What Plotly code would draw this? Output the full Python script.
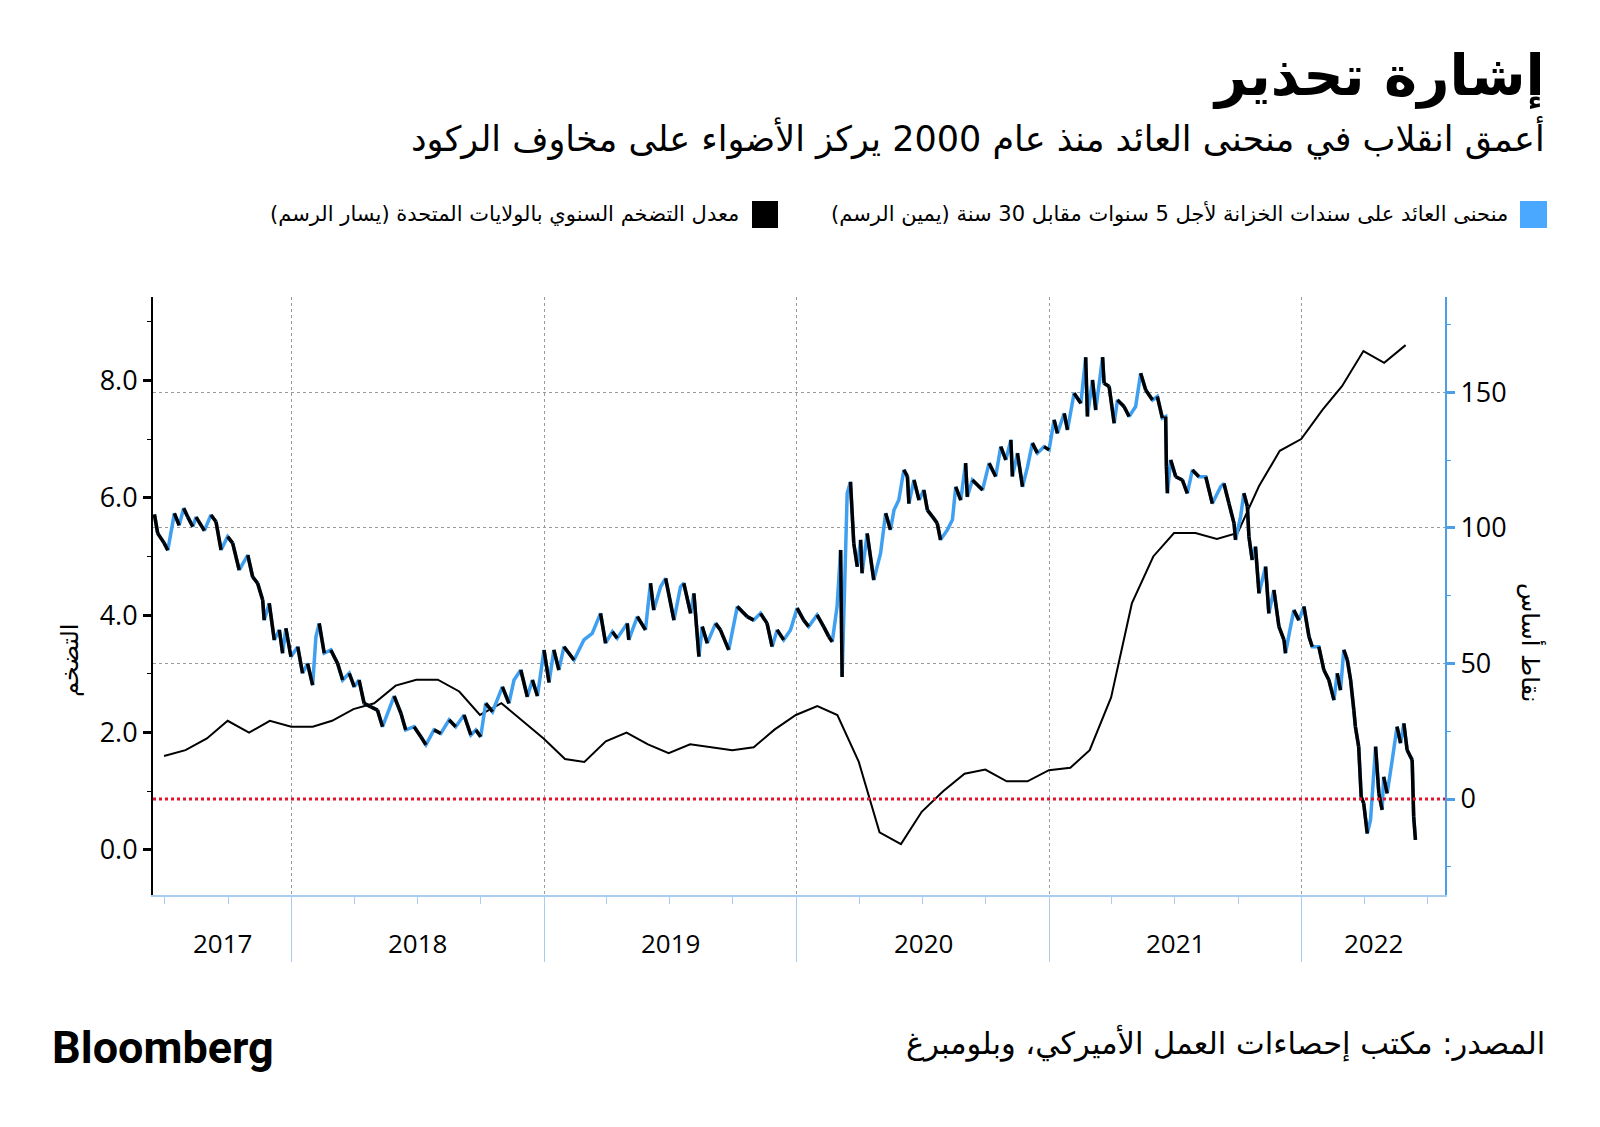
import plotly.graph_objects as go
import pandas as pd
from datetime import datetime

# ---------------- text ----------------
title_text = "إشارة تحذير"
subtitle_text = "أعمق انقلاب في منحنى العائد منذ عام 2000 يركز الأضواء على مخاوف الركود"
legend_spread = "منحنى العائد على سندات الخزانة لأجل 5 سنوات مقابل 30 سنة (يمين الرسم)"
legend_cpi = "معدل التضخم السنوي بالولايات المتحدة (يسار الرسم)"
left_title = "التضخم"
right_title = "نقاط أساس"
source_text = "المصدر: مكتب إحصاءات العمل الأميركي، وبلومبرغ"
brand_text = "Bloomberg"

# ---------------- data ----------------
# US CPI YoY (%), monthly, first month 2017-06
cpi_first_month = "2017-06"
cpi_values = [1.6, 1.7, 1.9, 2.2, 2.0, 2.2, 2.1,
              2.1, 2.2, 2.4, 2.5, 2.8, 2.9, 2.9, 2.7, 2.3, 2.5, 2.2, 1.9,
              1.55, 1.5, 1.85, 2.0, 1.8, 1.65, 1.8, 1.75, 1.7, 1.75, 2.05, 2.3,
              2.45, 2.3, 1.5, 0.3, 0.1, 0.65, 1.0, 1.3, 1.37, 1.17, 1.17, 1.36,
              1.4, 1.7, 2.6, 4.2, 5.0, 5.4, 5.4, 5.3, 5.4, 6.2, 6.8, 7.0,
              7.5, 7.9, 8.5, 8.3, 8.6]

# 5s30s Treasury curve (bp); time in decimal years
spread_t = [2017.455, 2017.468, 2017.493, 2017.508, 2017.534, 2017.553, 2017.571, 2017.587, 2017.607, 2017.620,
            2017.653, 2017.679, 2017.699, 2017.719, 2017.745, 2017.765, 2017.791, 2017.825, 2017.844, 2017.864,
            2017.884, 2017.890, 2017.910, 2017.930, 2017.950, 2017.963, 2017.976, 2017.996,
            2018.023, 2018.042, 2018.062, 2018.082, 2018.095, 2018.108, 2018.128, 2018.154, 2018.181, 2018.201,
            2018.227, 2018.247, 2018.266, 2018.286, 2018.313, 2018.339, 2018.359, 2018.385, 2018.405, 2018.432,
            2018.451, 2018.484, 2018.511, 2018.531, 2018.563, 2018.590, 2018.623, 2018.649, 2018.682, 2018.709,
            2018.729, 2018.748, 2018.768, 2018.795, 2018.834, 2018.860, 2018.880, 2018.907, 2018.933, 2018.953,
            2018.973, 2018.999,
            2019.019, 2019.038, 2019.058, 2019.078, 2019.118, 2019.157, 2019.190, 2019.223, 2019.243, 2019.270,
            2019.289, 2019.329, 2019.335, 2019.369, 2019.401, 2019.421, 2019.434, 2019.461, 2019.481, 2019.514,
            2019.540, 2019.553, 2019.580, 2019.593, 2019.613, 2019.626, 2019.646, 2019.679, 2019.698, 2019.731,
            2019.765, 2019.804, 2019.830, 2019.857, 2019.883, 2019.903, 2019.923, 2019.949, 2019.976,
            2020.002, 2020.028, 2020.048, 2020.081, 2020.107, 2020.127, 2020.141, 2020.160, 2020.174, 2020.180,
            2020.193, 2020.200, 2020.213, 2020.226, 2020.240, 2020.253, 2020.259, 2020.279, 2020.305, 2020.332,
            2020.352, 2020.371, 2020.385, 2020.404, 2020.424, 2020.438, 2020.444, 2020.464, 2020.484, 2020.503,
            2020.517, 2020.537, 2020.556, 2020.569, 2020.596, 2020.616, 2020.629, 2020.649, 2020.668, 2020.675,
            2020.695, 2020.735, 2020.761, 2020.787, 2020.807, 2020.827, 2020.847, 2020.853, 2020.873, 2020.893,
            2020.913, 2020.932, 2020.952, 2020.978, 2020.998,
            2021.018, 2021.031, 2021.058, 2021.071, 2021.097, 2021.124, 2021.143, 2021.150, 2021.170, 2021.183,
            2021.210, 2021.216, 2021.236, 2021.256, 2021.269, 2021.295, 2021.315, 2021.341, 2021.361, 2021.381,
            2021.408, 2021.427, 2021.447, 2021.460, 2021.463, 2021.467, 2021.480, 2021.500, 2021.526, 2021.546,
            2021.566, 2021.592, 2021.619, 2021.645, 2021.678, 2021.691, 2021.711, 2021.731, 2021.737, 2021.757,
            2021.770, 2021.784, 2021.790, 2021.803, 2021.816, 2021.830, 2021.856, 2021.869, 2021.889, 2021.909,
            2021.929, 2021.935, 2021.955, 2021.968, 2021.988,
            2022.008, 2022.028, 2022.041, 2022.067, 2022.087, 2022.107, 2022.127, 2022.140, 2022.153, 2022.166,
            2022.180, 2022.193, 2022.206, 2022.212, 2022.225, 2022.235, 2022.245, 2022.259, 2022.272, 2022.285,
            2022.292, 2022.305, 2022.318, 2022.324, 2022.338, 2022.358, 2022.377, 2022.391, 2022.404, 2022.417,
            2022.437, 2022.443, 2022.450]
spread_bp = [105, 98, 94.5, 91.8, 105.4, 101, 107.3, 104, 100.5, 104,
             99, 104.8, 102.3, 91.9, 96.8, 94.4, 84.5, 90, 82, 79.6,
             73.4, 66, 72.2, 58.7, 62.4, 53.8, 63, 52.5,
             56.2, 46.4, 50, 42, 59.9, 64.8, 53.8, 55, 50, 43.9,
             46.4, 41.4, 43.9, 35.3, 34, 32.8, 26.7, 32.8, 38, 31.6,
             25.5, 26.7, 23, 20, 25.5, 24.2, 29.2, 26.7, 31, 23.6,
             25.5, 23, 35.3, 32.2, 41.4, 35.3, 43.9, 47.6, 37.7, 43.9,
             38, 55,
             43, 55, 47.6, 56.2, 51.3, 58.7, 61.1, 68.5, 57.5, 61.7,
             59.3, 64.8, 58.7, 67.3, 62.4, 79.6, 69.7, 78.3, 81.4, 66,
             78.3, 79.6, 68.5, 75.9, 52.5, 63.6, 57.5, 64.8, 62.4, 55,
             71, 67.3, 66, 68.5, 64.8, 56.2, 62.4, 58.7, 62.4,
             70.4, 66, 63.6, 67.9, 63.6, 59.9, 58, 71, 91.9, 45,
             83.4, 112.8, 117, 94.4, 85.7, 95.6, 83.3, 98, 80.8, 90.7,
             105.4, 99.3, 106.6, 110.3, 121.4, 119, 109, 117.7, 110.3, 114,
             106.6, 104.2, 101.7, 95.6, 99.3, 103, 115.2, 110.3, 123.9, 111.5,
             117.7, 114, 123.9, 119, 130, 125.1, 132.5, 119, 127.6, 115.2,
             122.6, 131.3, 127.6, 130, 128.8,
             139.9, 134.9, 142.3, 136.2, 149.7, 146, 163, 141.1, 154.6, 143.5,
             163, 153.4, 152.2, 138.6, 147.2, 144.8, 141.1, 144.8, 157.1, 150.9,
             147.2, 148.5, 140.5, 141.1, 122.6, 112.8, 125.1, 118.9, 117.7, 112.8,
             121.4, 118.9, 118.9, 109, 115.2, 116.4, 109, 101.7, 95.6, 104.2,
             112.8, 107.9, 96.8, 88.2, 93.1, 75.9, 85.7, 68.5, 77.1, 63.6,
             58.7, 53.8, 63.6, 69.7, 66,
             71, 59.9, 56.2, 56.2, 47.6, 43.9, 36.5, 46.4, 40.2, 55,
             51.3, 43.9, 32.8, 26.7, 19.3, 0.8, -1.6, -12.7, -7.7, 8.2,
             19.3, 2.1, -4, 8.2, 2.1, 14.4, 26.7, 20.6, 27.9, 18.1,
             14.4, -6.5, -15.1]

# axes
x_range = ["2017-06-14", "2022-07-27"]
year_bounds = ["2018-01-01", "2019-01-01", "2020-01-01", "2021-01-01", "2022-01-01"]
quarter_ticks = ["2017-07-01", "2017-10-01", "2018-04-01", "2018-07-01", "2018-10-01",
                 "2019-04-01", "2019-07-01", "2019-10-01", "2020-04-01", "2020-07-01", "2020-10-01",
                 "2021-04-01", "2021-07-01", "2021-10-01", "2022-04-01", "2022-07-01"]
year_labels = ["2017", "2018", "2019", "2020", "2021", "2022"]
year_label_pos = ["2017-09-22", "2018-07-02", "2019-07-02", "2020-07-02", "2021-07-02", "2022-04-15"]
left_ticks = [0, 2, 4, 6, 8]
left_ticktext = ["0.0", "2.0", "4.0", "6.0", "8.0"]
left_minor = [1, 3, 5, 7, 9]
right_ticks = [0, 50, 100, 150]
right_minor = [-25, 25, 75, 125, 175]

BLUE = "#3f9ff0"
AX_BLUE = "#4a9fe8"
LIGHT_BLUE = "#a9cdee"
GRID = "#9a9a9a"
RED = "#e3132b"


def decimal_year(t):
    y = int(t)
    start, end = datetime(y, 1, 1), datetime(y + 1, 1, 1)
    return start + (end - start) * (t - y)


spread_x = [decimal_year(t) for t in spread_t]
cpi_x = [p.to_timestamp(how="end").normalize()
         for p in pd.period_range(cpi_first_month, periods=len(cpi_values), freq="M")]

# segments where the curve falls are drawn in black (like down candles)
down_x, down_y = [], []
for i in range(1, len(spread_bp)):
    if spread_bp[i] < spread_bp[i - 1]:
        down_x += [spread_x[i - 1], spread_x[i], None]
        down_y += [spread_bp[i - 1], spread_bp[i], None]

RTL = lambda s: "\u202b" + s + "\u202c"

fig = go.Figure()
fig.add_trace(go.Scatter(x=cpi_x, y=cpi_values, mode="lines", yaxis="y",
                         line=dict(color="black", width=2), showlegend=False))
fig.add_trace(go.Scatter(x=spread_x, y=spread_bp, mode="lines", yaxis="y2",
                         line=dict(color=BLUE, width=3.5), showlegend=False))
fig.add_trace(go.Scatter(x=down_x, y=down_y, mode="lines", yaxis="y2",
                         line=dict(color="black", width=3.5), showlegend=False,
                         connectgaps=False))

OFF = 8  # page offset of the figure (body margin)
W, H = 1600, 1127
# plot area in page pixels: x 153..1445, y 297..895
L = 153 - OFF
T = 297 - OFF
R = W - (1445 - OFF)
B = H - (895 - OFF)
PW, PH = W - L - R, H - T - B


def px(xp):
    return (xp - OFF - L) / PW


def py(yp):
    return (H - B - (yp - OFF)) / PH


tick_font = dict(family="Open Sans, DejaVu Sans", size=27, color="black")
year_font = dict(family="Open Sans, DejaVu Sans", size=26, color="black")
ar_font = "DejaVu Sans"

fig.update_layout(
    width=W, height=H, paper_bgcolor="white", plot_bgcolor="white",
    margin=dict(l=L, r=R, t=T, b=B, autoexpand=False),
    showlegend=False,
    xaxis=dict(type="date", range=x_range, tickvals=year_bounds, showticklabels=False,
               ticks="outside", ticklen=65, tickcolor=LIGHT_BLUE, tickwidth=1.2,
               showgrid=True, gridcolor=GRID, griddash="dot", gridwidth=1,
               showline=True, linecolor=LIGHT_BLUE, linewidth=1.5, zeroline=False,
               minor=dict(tickvals=quarter_ticks, ticks="outside", ticklen=7,
                          tickcolor=LIGHT_BLUE, tickwidth=1.2, showgrid=False)),
    yaxis=dict(range=[-0.767, 9.42], tickvals=left_ticks, ticktext=left_ticktext,
               ticks="outside", ticklen=8, tickwidth=3, tickcolor="black",
               showline=True, linecolor="black", linewidth=2, showgrid=False,
               zeroline=False, tickfont=tick_font,
               minor=dict(tickvals=left_minor, ticks="outside", ticklen=4,
                          tickcolor="black", tickwidth=1, showgrid=False)),
    yaxis2=dict(range=[-35.4, 185.2], overlaying="y", side="right",
                tickvals=right_ticks, ticks="outside", ticklen=8, tickwidth=3,
                tickcolor=AX_BLUE, showline=True, linecolor=AX_BLUE, linewidth=2,
                showgrid=True, gridcolor=GRID, griddash="dot", gridwidth=1,
                zeroline=False, tickfont=tick_font,
                minor=dict(tickvals=right_minor, ticks="outside", ticklen=4,
                           tickcolor=AX_BLUE, tickwidth=1, showgrid=False)),
)

# zero line (right axis)
fig.add_shape(type="line", xref="paper", x0=0, x1=1, yref="y2", y0=0, y1=0,
              line=dict(color=RED, width=3, dash="dot"), layer="above")

annotations = []
# year labels
for lab, pos in zip(year_labels, year_label_pos):
    annotations.append(dict(x=pos, xref="x", y=py(943), yref="paper", text=lab,
                            showarrow=False, xanchor="center", yanchor="middle",
                            font=year_font))
# titles
annotations.append(dict(x=px(1547), y=py(76), xref="paper", yref="paper",
                        text="<b>" + RTL(title_text) + "</b>", showarrow=False,
                        xanchor="right", yanchor="middle",
                        font=dict(family=ar_font, size=56, color="black")))
annotations.append(dict(x=px(1547), y=py(138), xref="paper", yref="paper",
                        text=RTL(subtitle_text), showarrow=False,
                        xanchor="right", yanchor="middle",
                        font=dict(family=ar_font, size=35, color="black")))
# legend texts
annotations.append(dict(x=px(1510), y=py(214), xref="paper", yref="paper",
                        text=RTL(legend_spread), showarrow=False,
                        xanchor="right", yanchor="middle",
                        font=dict(family=ar_font, size=21, color="black")))
annotations.append(dict(x=px(741), y=py(214), xref="paper", yref="paper",
                        text=RTL(legend_cpi), showarrow=False,
                        xanchor="right", yanchor="middle",
                        font=dict(family=ar_font, size=21, color="black")))
# axis titles
annotations.append(dict(x=px(70), y=py(660), xref="paper", yref="paper",
                        text=RTL(left_title), showarrow=False, textangle=-90,
                        xanchor="center", yanchor="middle",
                        font=dict(family=ar_font, size=24, color="black")))
annotations.append(dict(x=px(1531), y=py(642), xref="paper", yref="paper",
                        text=RTL(right_title), showarrow=False, textangle=90,
                        xanchor="center", yanchor="middle",
                        font=dict(family=ar_font, size=24, color="black")))
# footer
annotations.append(dict(x=px(1547), y=py(1043), xref="paper", yref="paper",
                        text=RTL(source_text), showarrow=False,
                        xanchor="right", yanchor="middle",
                        font=dict(family=ar_font, size=30.5, color="black")))
annotations.append(dict(x=px(50), y=py(1047), xref="paper", yref="paper",
                        text="<b>" + brand_text + "</b>", showarrow=False,
                        xanchor="left", yanchor="middle",
                        font=dict(family="Roboto, Liberation Sans", size=45, color="black")))
fig.update_layout(annotations=annotations)

# legend swatches
fig.add_shape(type="rect", xref="paper", yref="paper", x0=px(1520), x1=px(1547),
              y0=py(228), y1=py(201), fillcolor="#4aa8ff", line=dict(width=0))
fig.add_shape(type="rect", xref="paper", yref="paper", x0=px(752), x1=px(778),
              y0=py(228), y1=py(201), fillcolor="black", line=dict(width=0))

fig.write_html("out.html")
